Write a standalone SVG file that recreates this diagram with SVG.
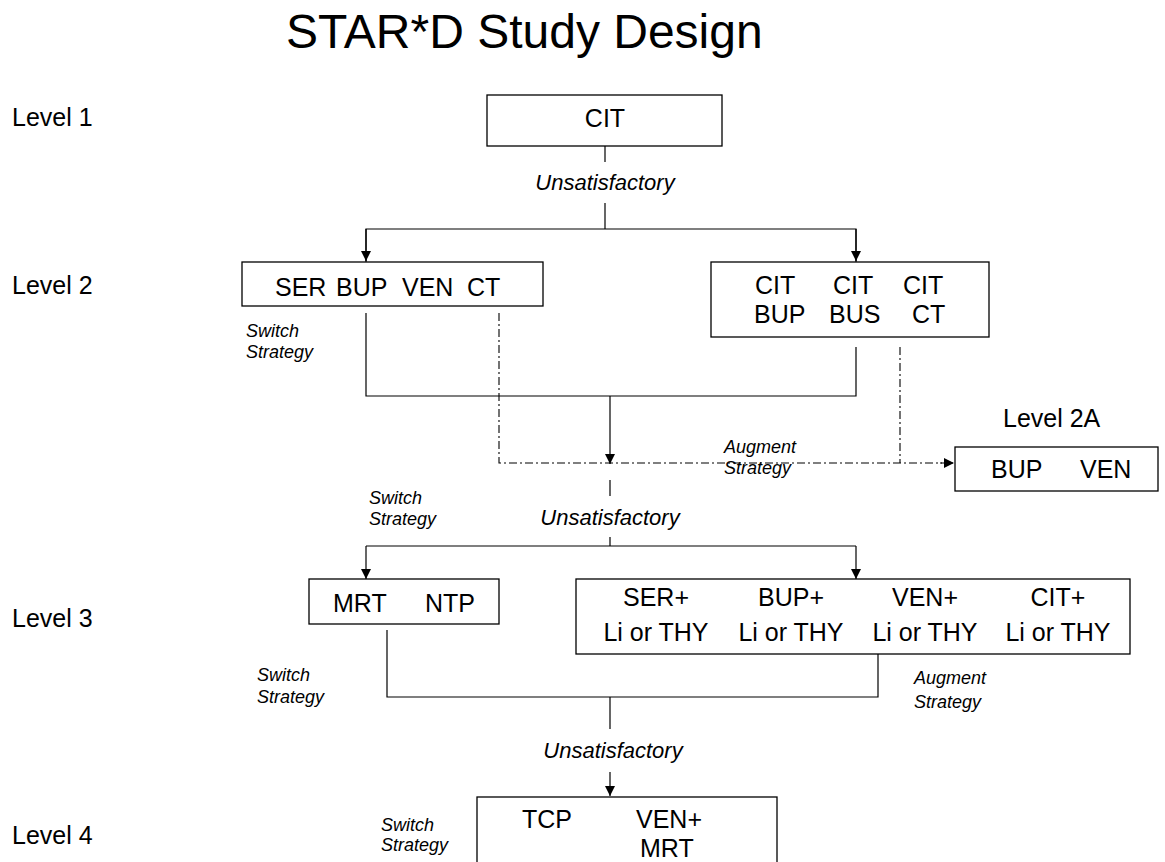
<svg xmlns="http://www.w3.org/2000/svg" width="1165" height="862" viewBox="0 0 1165 862">
<style>
text{font-family:"Liberation Sans",Arial,sans-serif;fill:#000}
.t{font-size:25px}
.lv{font-size:25px}
.u{font-size:22px;font-style:italic}
.s{font-size:18px;font-style:italic}
.box{fill:#fff;stroke:#000;stroke-width:1.3}
.ln{fill:none;stroke:#000;stroke-width:1.2}
.dd{fill:none;stroke:#000;stroke-width:1.1;stroke-dasharray:8 3 2 3}
</style>
<defs>
<marker id="ah" markerUnits="userSpaceOnUse" markerWidth="12" markerHeight="10" refX="10" refY="5" orient="auto">
<path d="M0,0 L10,5 L0,10 Z" fill="#000"/>
</marker>
</defs>
<rect width="1165" height="862" fill="#fff"/>
<text x="286" y="48" font-size="48">STAR*D Study Design</text>
<g id="level-labels">
<text class="lv" x="12" y="126">Level 1</text>
<text class="lv" x="12" y="294">Level 2</text>
<text class="lv" x="12" y="627">Level 3</text>
<text class="lv" x="12" y="844">Level 4</text>
</g>
<g id="connectors">
<line class="ln" x1="605" y1="146" x2="605" y2="162"/>
<line class="ln" x1="605" y1="203" x2="605" y2="229"/>
<polyline class="ln" points="366,262 366,229 856,229 856,262"/>
<line class="ln" x1="366" y1="229" x2="366" y2="261" marker-end="url(#ah)"/>
<line class="ln" x1="856" y1="229" x2="856" y2="261" marker-end="url(#ah)"/>
<polyline class="ln" points="366,313 366,396 856,396 856,347"/>
<line class="ln" x1="610" y1="396" x2="610" y2="464" marker-end="url(#ah)"/>
<polyline class="dd" points="499,313 499,463 953,463"/>
<line class="dd" x1="900" y1="347" x2="900" y2="463"/>
<line class="ln" x1="940" y1="463" x2="954" y2="463" marker-end="url(#ah)" stroke-dasharray="2 3"/>
<line class="ln" x1="610" y1="480" x2="610" y2="496"/>
<line class="ln" x1="610" y1="537" x2="610" y2="546"/>
<line class="ln" x1="366" y1="546" x2="856" y2="546"/>
<line class="ln" x1="366" y1="546" x2="366" y2="579" marker-end="url(#ah)"/>
<line class="ln" x1="856" y1="546" x2="856" y2="579" marker-end="url(#ah)"/>
<polyline class="ln" points="387,630 387,697 878,697 878,654"/>
<line class="ln" x1="610" y1="697" x2="610" y2="729"/>
<line class="ln" x1="610" y1="772" x2="610" y2="796" marker-end="url(#ah)"/>
</g>
<g id="connector-labels">
<text class="u" x="605" y="190" text-anchor="middle">Unsatisfactory</text>
<text class="s" x="246" y="337">Switch</text>
<text class="s" x="246" y="358">Strategy</text>
<text class="s" x="724" y="453">Augment</text>
<text class="s" x="724" y="474">Strategy</text>
<text class="s" x="369" y="504">Switch</text>
<text class="s" x="369" y="525">Strategy</text>
<text class="u" x="610" y="525" text-anchor="middle">Unsatisfactory</text>
<text class="s" x="257" y="681">Switch</text>
<text class="s" x="257" y="703">Strategy</text>
<text class="s" x="914" y="684">Augment</text>
<text class="s" x="914" y="708">Strategy</text>
<text class="u" x="613" y="758" text-anchor="middle">Unsatisfactory</text>
<text class="s" x="381" y="831">Switch</text>
<text class="s" x="381" y="851">Strategy</text>
</g>
<g id="node-cit">
<rect class="box" x="487" y="95" width="235" height="51"/>
<text class="t" x="605" y="127" text-anchor="middle">CIT</text>
</g>
<g id="node-l2-switch">
<rect class="box" x="242" y="262" width="301" height="44"/>
<text class="t" y="296"><tspan x="275">SER</tspan><tspan x="336">BUP</tspan><tspan x="402">VEN</tspan><tspan x="467">CT</tspan></text>
</g>
<g id="node-l2-augment">
<rect class="box" x="711" y="262" width="278" height="75"/>
<text class="t" y="294"><tspan x="755">CIT</tspan><tspan x="833">CIT</tspan><tspan x="903">CIT</tspan></text>
<text class="t" y="323"><tspan x="754">BUP</tspan><tspan x="829">BUS</tspan><tspan x="912">CT</tspan></text>
</g>
<g id="node-l2a">
<text class="t" x="1003" y="427">Level 2A</text>
<rect class="box" x="955" y="447" width="203" height="44"/>
<text class="t" y="478"><tspan x="991">BUP</tspan><tspan x="1080">VEN</tspan></text>
</g>
<g id="node-l3-switch">
<rect class="box" x="309" y="579" width="190" height="45"/>
<text class="t" y="612"><tspan x="333">MRT</tspan><tspan x="425">NTP</tspan></text>
</g>
<g id="node-l3-augment">
<rect class="box" x="576" y="579" width="554" height="75"/>
<text class="t" y="606" text-anchor="middle"><tspan x="656">SER+</tspan><tspan x="791">BUP+</tspan><tspan x="925">VEN+</tspan><tspan x="1058">CIT+</tspan></text>
<text class="t" y="641" text-anchor="middle"><tspan x="656">Li or THY</tspan><tspan x="791">Li or THY</tspan><tspan x="925">Li or THY</tspan><tspan x="1058">Li or THY</tspan></text>
</g>
<g id="node-l4">
<rect class="box" x="477" y="797" width="300" height="80"/>
<text class="t" y="828"><tspan x="522">TCP</tspan><tspan x="636">VEN+</tspan></text>
<text class="t" x="640" y="857">MRT</text>
</g>
</svg>
